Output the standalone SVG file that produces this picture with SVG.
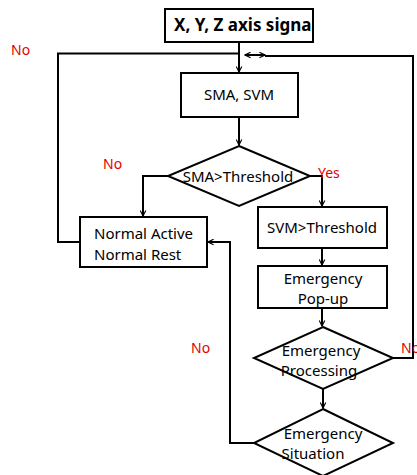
<svg xmlns="http://www.w3.org/2000/svg" width="417" height="475" viewBox="0 0 417 475">
<style>
.box{fill:#fff;stroke:#000;stroke-width:2}
.t{font-family:"Noto Sans","Liberation Sans",sans-serif;font-size:15px;fill:#000;text-anchor:middle}
.r{font-family:"Noto Sans","Liberation Sans",sans-serif;font-size:14px;fill:#e00000}
.c{fill:none;stroke:#000;stroke-width:2}
</style>
<defs>
<marker id="a" viewBox="0 0 10 10" refX="9" refY="5" markerWidth="7" markerHeight="7" orient="auto-start-reverse" markerUnits="userSpaceOnUse">
<path d="M1,1 L9,5 L1,9" fill="none" stroke="#000" stroke-width="1.6"/>
</marker>
</defs>
<rect width="417" height="475" fill="#fff"/>
<g id="connectors">
<path class="c" d="M239,42 V72" marker-end="url(#a)"/>
<path class="c" d="M239,117 V145" marker-end="url(#a)"/>
<path class="c" d="M168,176 H143 V216" marker-end="url(#a)"/>
<path class="c" d="M310,176 H322 V206" marker-end="url(#a)"/>
<path class="c" d="M322,248 V265" marker-end="url(#a)"/>
<path class="c" d="M322,308 V326" marker-end="url(#a)"/>
<path class="c" d="M323,389 V408" marker-end="url(#a)"/>
<path class="c" d="M80,242 H58 V53.5 H239"/>
<path class="c" d="M393,358 H413 V56 H265"/>
<path class="c" d="M245,55 H265" marker-start="url(#a)" marker-end="url(#a)"/>
<path class="c" d="M254,443 H230 V242 H208" marker-end="url(#a)"/>
</g>
<g id="n1">
<rect class="box" x="165" y="9" width="148" height="33"/>
<text class="t" x="174" y="31" style="text-anchor:start;font-size:17px;font-weight:bold">X, Y, Z axis signa</text>
</g>
<g id="n2">
<rect class="box" x="181" y="73" width="117" height="44"/>
<text class="t" x="239" y="100">SMA, SVM</text>
</g>
<g id="n3">
<polygon class="box" points="239,146 310,176 239,206 168,176"/>
<text class="t" x="238" y="182">SMA&gt;Threshold</text>
</g>
<g id="n4">
<rect class="box" x="80" y="217" width="127" height="50"/>
<text class="t" x="94" y="239" style="text-anchor:start">Normal Active</text>
<text class="t" x="94" y="260" style="text-anchor:start">Normal Rest</text>
</g>
<g id="n5">
<rect class="box" x="258" y="207" width="129" height="41"/>
<text class="t" x="322" y="233">SVM&gt;Threshold</text>
</g>
<g id="n6">
<rect class="box" x="258" y="266" width="129" height="42"/>
<text class="t" x="323" y="284">Emergency</text>
<text class="t" x="323" y="304">Pop-up</text>
</g>
<g id="n7">
<polygon class="box" points="323,327 393,358 323,389 254,358"/>
<text class="t" x="321" y="356">Emergency</text>
<text class="t" x="319" y="376">Processing</text>
</g>
<g id="n8">
<polygon class="box" points="323,409 393,443 323,476 254,443"/>
<text class="t" x="323" y="439">Emergency</text>
<text class="t" x="313" y="459">Situation</text>
</g>
<g id="labels">
<text class="r" x="11" y="55">No</text>
<text class="r" x="103" y="169">No</text>
<text class="r" x="318" y="178">Yes</text>
<text class="r" x="191" y="353">No</text>
<text class="r" x="401" y="353">No</text>
</g>
</svg>
